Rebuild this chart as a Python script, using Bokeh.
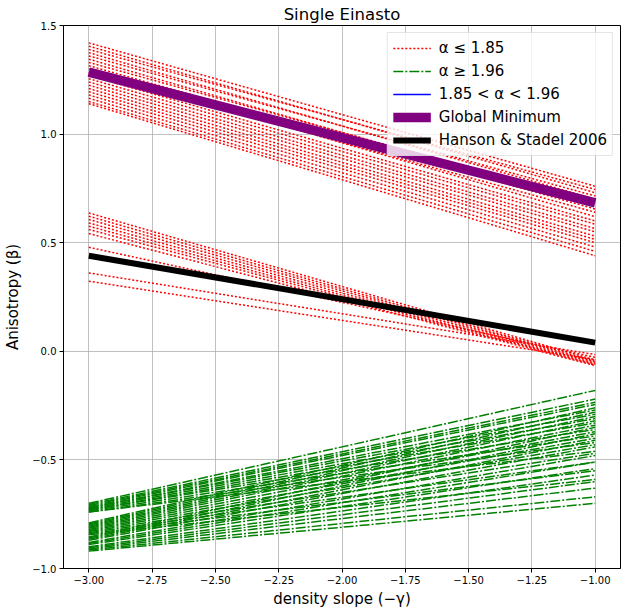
from bokeh.plotting import figure
from bokeh.models import Range1d, FixedTicker, CustomJSTickFormatter, Legend, LegendItem
from bokeh.embed import file_html
from bokeh.resources import INLINE

# density slope end points of every fitted line
x_ends = [-3.0, -1.0]

# alpha <= 1.85 : upper family (beta at x=-3 and x=-1)
red_high_start = [1.42, 1.405, 1.39, 1.375, 1.36, 1.345, 1.33, 1.315, 1.30, 1.285,
                  1.27, 1.255, 1.24, 1.225, 1.21, 1.195, 1.18, 1.165, 1.15, 1.14]
red_high_end = [0.76, 0.73, 0.745, 0.70, 0.715, 0.67, 0.685, 0.655, 0.62, 0.64,
                0.60, 0.585, 0.565, 0.55, 0.53, 0.515, 0.50, 0.48, 0.46, 0.44]
# alpha <= 1.85 : lower family
red_low_start = [0.637, 0.622, 0.607, 0.591, 0.576, 0.561, 0.542, 0.479, 0.361, 0.323]
red_low_end = [-0.040, -0.046, -0.050, -0.055, -0.060, -0.063, -0.066, -0.028, -0.015, -0.038]

# alpha >= 1.96
green_start = [-0.700, -0.705, -0.710, -0.715, -0.720, -0.720, -0.725, -0.730, -0.730, -0.735, -0.740, -0.740,
               -0.790, -0.795, -0.800, -0.805, -0.810, -0.815, -0.820, -0.825, -0.830, -0.835, -0.840, -0.845,
               -0.855, -0.860, -0.865, -0.870, -0.880, -0.885, -0.890, -0.900, -0.905, -0.910, -0.915, -0.920]
green_end = [-0.18, -0.22, -0.235, -0.245, -0.27, -0.29, -0.31, -0.33, -0.36, -0.39, -0.42, -0.46,
             -0.26, -0.28, -0.30, -0.32, -0.34, -0.37, -0.40, -0.43, -0.47, -0.51, -0.55, -0.59,
             -0.35, -0.38, -0.41, -0.44, -0.48, -0.51, -0.54, -0.57, -0.60, -0.63, -0.67, -0.70]

# 1.85 < alpha < 1.96 : no model falls in this range (legend entry only)
mid_alpha = [float("nan"), float("nan")]

global_min = [1.285, 0.683]
hanson_stadel = [0.44, 0.04]

x_ticks = [-3.0, -2.75, -2.5, -2.25, -2.0, -1.75, -1.5, -1.25, -1.0]
y_ticks = [-1.0, -0.5, 0.0, 0.5, 1.0, 1.5]

labels = ["\u03b1 \u2264 1.85", "\u03b1 \u2265 1.96", "1.85 < \u03b1 < 1.96",
          "Global Minimum", "Hanson & Stadel 2006"]

FONT = "DejaVu Sans"

p = figure(frame_width=557, frame_height=543,
           min_border_left=63, min_border_right=10, min_border_top=25, min_border_bottom=47,
           x_range=Range1d(-3.1, -0.9), y_range=Range1d(-1.0, 1.5),
           output_backend="svg", toolbar_location=None, title="Single Einasto")

p.title.align = "center"
p.title.text_font = FONT
p.title.text_font_size = "16.5px"
p.title.text_font_style = "normal"
p.title.text_color = "black"
p.title.standoff = 4

p.background_fill_color = "white"
p.border_fill_color = "white"
p.outline_line_color = "black"
p.outline_line_width = 1

for ax in (p.xaxis[0], p.yaxis[0]):
    ax.axis_line_color = "black"
    ax.major_tick_line_color = "black"
    ax.major_tick_out = 4
    ax.major_tick_in = 0
    ax.minor_tick_out = 0
    ax.minor_tick_in = 0
    ax.major_label_text_font = FONT
    ax.major_label_text_font_size = "10px"
    ax.major_label_text_color = "black"
    ax.axis_label_text_font = FONT
    ax.axis_label_text_font_size = "15px"
    ax.axis_label_text_font_style = "normal"
    ax.axis_label_text_color = "black"
    ax.major_label_standoff = 3

p.xaxis.ticker = FixedTicker(ticks=x_ticks)
p.yaxis.ticker = FixedTicker(ticks=y_ticks)
p.xaxis.formatter = CustomJSTickFormatter(code="return tick.toFixed(2).replace('-', '\u2212');")
p.yaxis.formatter = CustomJSTickFormatter(code="return tick.toFixed(1).replace('-', '\u2212');")
p.xaxis.axis_label = "density slope (\u2212\u03b3)"
p.yaxis.axis_label = "Anisotropy (\u03b2)"
p.xaxis.axis_label_standoff = 3
p.yaxis.axis_label_standoff = 7

p.grid.grid_line_color = "#b0b0b0"
p.grid.grid_line_width = 0.8

red_xs = [x_ends for _ in red_high_start] + [x_ends for _ in red_low_start]
red_ys = [[a, b] for a, b in zip(red_high_start, red_high_end)] + \
         [[a, b] for a, b in zip(red_low_start, red_low_end)]
r_red = p.multi_line(red_xs, red_ys, line_color="red", line_width=1.5, line_dash="2 2")

green_xs = [x_ends for _ in green_start]
green_ys = [[a, b] for a, b in zip(green_start, green_end)]
r_green = p.multi_line(green_xs, green_ys, line_color="green", line_width=1.5, line_dash="10 2 2 2")

r_blue = p.line(x=x_ends, y=mid_alpha, line_color="blue", line_width=1.5)

r_purple = p.line(x=x_ends, y=global_min, line_color="purple", line_width=9.5)
r_black = p.line(x=x_ends, y=hanson_stadel, line_color="black", line_width=6)

legend = Legend(items=[
    LegendItem(label=labels[0], renderers=[r_red]),
    LegendItem(label=labels[1], renderers=[r_green]),
    LegendItem(label=labels[2], renderers=[r_blue]),
    LegendItem(label=labels[3], renderers=[r_purple]),
    LegendItem(label=labels[4], renderers=[r_black]),
], location="top_right")
legend.label_text_font = FONT
legend.label_text_font_size = "15px"
legend.label_text_color = "black"
legend.glyph_width = 38
legend.glyph_height = 20
legend.label_height = 20
legend.spacing = 3
legend.padding = 5
legend.margin = 7
legend.label_standoff = 8
legend.border_line_color = "#cccccc"
legend.background_fill_alpha = 0.8
p.add_layout(legend)

open("out.html", "w").write(file_html(p, INLINE))
